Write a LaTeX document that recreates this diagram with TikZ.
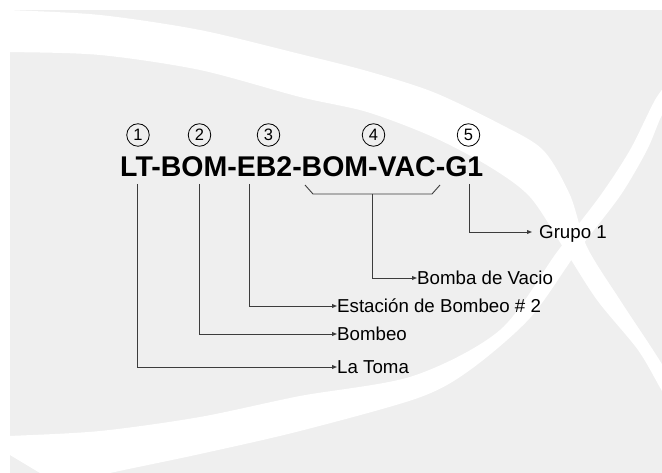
\documentclass[tikz,border=0pt]{standalone}
\usepackage{fontspec}
\setmainfont{Liberation Sans}
\usetikzlibrary{arrows.meta}
\definecolor{bggray}{RGB}{239,239,239}
\definecolor{linec}{RGB}{60,60,60}
\begin{document}
\begin{tikzpicture}[x=1bp,y=-1bp,
  conn/.style={draw=linec, line width=0.9bp, -{Triangle[length=5bp,width=3.8bp]}},
  plainline/.style={draw=linec, line width=0.9bp},
  lbl/.style={anchor=west, inner sep=0pt, font=\fontsize{18.7bp}{20bp}\selectfont, text height=13.4bp, text depth=0pt},
  num/.style={circle, draw=black, line width=0.8bp, minimum size=22.5bp, inner sep=0pt, font=\fontsize{16.5bp}{18bp}\selectfont},
  titlestyle/.style={anchor=base west, inner sep=0pt, font=\fontsize{28.5bp}{30bp}\selectfont\bfseries}]
\useasboundingbox (0,0) rectangle (662,473);
% background
\fill[bggray] (9.5,10) rectangle (662,473);
\begin{scope}
\clip (9.5,10) rectangle (662,473);
% band A (top-left to bottom-right)
\fill[white] plot[smooth] coordinates {(-20,8) (9.5,10) (100,15) (200,30) (300,54) (367,71) (433,92) (500,124) (543,150) (570,195) (587,247) (620,300) (653,350) (675,385)}
  -- plot[smooth] coordinates {(680,420) (662,391) (638,350) (597,300) (563,247) (530,197) (490,167) (433,137) (367,112) (300,97) (200,70) (100,55) (9.5,52) (-20,52)} -- cycle;
% band B (bottom-left to top-right)
\fill[white] plot[smooth] coordinates {(-20,437) (9.5,436) (100,431) (200,417) (300,396) (413,376) (500,330) (557,252) (600,196) (630,150) (655,100) (670,80)}
  -- plot[smooth] coordinates {(675,100) (662,115) (647,150) (620,196) (577,252) (530,318) (470,370) (418,398) (300,431) (200,454) (110,473) (60,485)} -- cycle;
\end{scope}
% title
\node[titlestyle] (title) at (120,177) {LT-BOM-EB2-BOM-VAC-G1};
% circled numbers
\node[num] (n1) at (138,135) {1};
\node[num] (n2) at (199.5,135) {2};
\node[num] (n3) at (268.5,135) {3};
\node[num] (n4) at (373.5,135) {4};
\node[num] (n5) at (468.5,135) {5};
% labels
\node[lbl] (grupo) at (539,232) {Grupo 1};
\node[lbl] (vacio) at (417,278) {Bomba de Vacio};
\node[lbl] (estacion) at (337,306) {Estación de Bombeo \# 2};
\node[lbl] (bombeo) at (337,334) {Bombeo};
\node[lbl] (toma) at (337,367) {La Toma};
% connector start points
\coordinate (v1) at (137.3,184);
\coordinate (v2) at (199.3,184);
\coordinate (v3) at (249,184);
\coordinate (v5) at (469,184);
\coordinate (b1) at (305,185);
\coordinate (b2) at (313,194);
\coordinate (b3) at (432,194);
\coordinate (b4) at (440,185);
\coordinate (bm) at (372,194);
% connectors
\draw[plainline] (b1) -- (b2) -- (b3) -- (b4);
\draw[conn] (bm) |- (vacio.west);
\draw[conn] (v1) |- (toma.west);
\draw[conn] (v2) |- (bombeo.west);
\draw[conn] (v3) |- (estacion.west);
\draw[conn, shorten >=7bp] (v5) |- (grupo.west);
\end{tikzpicture}
\end{document}
